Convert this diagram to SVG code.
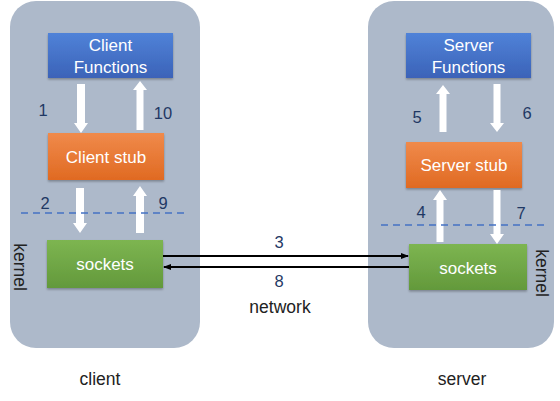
<svg xmlns="http://www.w3.org/2000/svg" width="560" height="401" viewBox="0 0 560 401">
<defs>
<linearGradient id="gBlue" x1="0" y1="0" x2="0" y2="1"><stop offset="0" stop-color="#5082D8"/><stop offset="1" stop-color="#3B63B8"/></linearGradient>
<linearGradient id="gOrange" x1="0" y1="0" x2="0" y2="1"><stop offset="0" stop-color="#F08A4B"/><stop offset="1" stop-color="#E06A22"/></linearGradient>
<linearGradient id="gGreen" x1="0" y1="0" x2="0" y2="1"><stop offset="0" stop-color="#7DB551"/><stop offset="1" stop-color="#63993B"/></linearGradient>
<filter id="sh" x="-10%" y="-10%" width="120%" height="130%"><feDropShadow dx="0" dy="1.5" stdDeviation="1.2" flood-color="#000" flood-opacity="0.3"/></filter>
<marker id="ah" markerWidth="8" markerHeight="6" refX="7" refY="3" orient="auto" markerUnits="userSpaceOnUse"><path d="M0,0 L8,3 L0,6 z" fill="#000"/></marker>
</defs>
<style>
.panel{fill:#ADB9CA}
.box{filter:url(#sh)}
.bt{font-family:"Liberation Sans","Noto Sans",sans-serif;font-size:17px;fill:#fff;text-anchor:middle}
.num{font-family:"Liberation Sans","Noto Sans",sans-serif;font-size:16.5px;fill:#1F3864;text-anchor:middle}
.lbl{font-family:"Liberation Sans","Noto Sans",sans-serif;font-size:17.5px;fill:#222;text-anchor:middle}
.wa{fill:#fff}
.dash{stroke:#4472C4;stroke-width:1.3;stroke-dasharray:7,5;fill:none}
.net{stroke:#000;stroke-width:2;fill:none}
</style>
<g id="client-panel"><rect class="panel" x="10" y="1" width="190" height="347" rx="26"/></g>
<g id="server-panel"><rect class="panel" x="368" y="1" width="186" height="347" rx="26"/></g>
<g id="client-functions"><rect class="box" x="48" y="33" width="125" height="45" fill="url(#gBlue)"/><text class="bt" x="110.5" y="51">Client</text><text class="bt" x="110.5" y="73">Functions</text></g>
<g id="client-stub"><rect class="box" x="48" y="133" width="116" height="47" fill="url(#gOrange)"/><text class="bt" x="106" y="163">Client stub</text></g>
<g id="client-sockets"><rect class="box" x="47" y="240" width="116" height="48" fill="url(#gGreen)"/><text class="bt" x="105" y="270">sockets</text></g>
<g id="server-functions"><rect class="box" x="406" y="33" width="125" height="45" fill="url(#gBlue)"/><text class="bt" x="468.5" y="51">Server</text><text class="bt" x="468.5" y="73">Functions</text></g>
<g id="server-stub"><rect class="box" x="406" y="142" width="116" height="46" fill="url(#gOrange)"/><text class="bt" x="464" y="171">Server stub</text></g>
<g id="server-sockets"><rect class="box" x="409" y="244" width="118" height="46" fill="url(#gGreen)"/><text class="bt" x="468" y="274">sockets</text></g>
<g id="connectors">
<path class="wa" d="M77,84 H85 V123 H88 L81,133 L74,123 H77 Z"/>
<path class="wa" d="M136.5,130 H143.5 V90 H147 L140,81 L133,90 H136.5 Z"/>
<path class="wa" d="M76,188 H84 V223 H87 L80,233 L73,223 H76 Z"/>
<path class="wa" d="M136,233 H144 V196 H147 L140,186 L133,196 H136 Z"/>
<path class="wa" d="M439.5,132 H446.5 V94 H450 L443,85 L436,94 H439.5 Z"/>
<path class="wa" d="M493.5,84 H500.5 V123 H504 L497,132 L490,123 H493.5 Z"/>
<path class="wa" d="M436.5,242 H443.5 V200 H447 L440,190 L433,200 H436.5 Z"/>
<path class="wa" d="M493.5,190 H500.5 V234 H504 L497,244 L490,234 H493.5 Z"/>
<line class="dash" x1="21" y1="213" x2="184" y2="213"/>
<line class="dash" x1="381" y1="225" x2="544" y2="225"/>
<line class="net" x1="163" y1="256" x2="408" y2="256" marker-end="url(#ah)"/>
<line class="net" x1="409" y1="267" x2="164" y2="267" marker-end="url(#ah)"/>
</g>
<g id="labels">
<text class="num" x="43" y="116">1</text>
<text class="num" x="163" y="119">10</text>
<text class="num" x="45" y="209">2</text>
<text class="num" x="163" y="209">9</text>
<text class="num" x="417" y="123">5</text>
<text class="num" x="527" y="119">6</text>
<text class="num" x="421" y="218">4</text>
<text class="num" x="521" y="219">7</text>
<text class="num" x="279" y="248">3</text>
<text class="num" x="279" y="287">8</text>
<text class="lbl" x="280" y="313">network</text>
<text class="lbl" x="100" y="385">client</text>
<text class="lbl" x="462" y="385">server</text>
<text class="lbl" transform="translate(14,267) rotate(90)" x="0" y="0">kernel</text>
<text class="lbl" transform="translate(536,273) rotate(90)" x="0" y="0">kernel</text>
</g>
</svg>
